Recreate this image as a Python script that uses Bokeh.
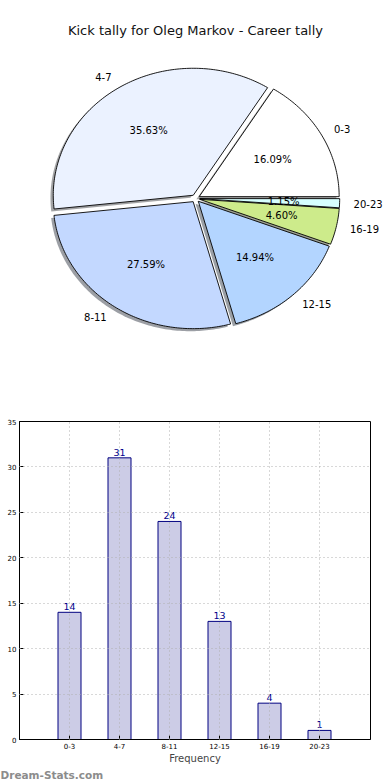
import numpy as np
from bokeh.plotting import figure
from bokeh.models import Range1d, FixedTicker, Title, ColumnDataSource
from bokeh.core.properties import value
from bokeh.embed import file_html
from bokeh.resources import INLINE

# ---------------- data ----------------
categories = ["0-3", "4-7", "8-11", "12-15", "16-19", "20-23"]
tallies = [14, 31, 24, 13, 4, 1]
slice_colors = ["#FFFFFF", "#EBF2FF", "#C3D8FF", "#B3D5FF", "#CDEB8B", "#D6FFFF"]
title_text = "Kick tally for Oleg Markov - Career tally"
x_axis_label = "Frequency"
y_ticks = [0, 5, 10, 15, 20, 25, 30, 35]
watermark = "Dream-Stats.com"

FONT = "DejaVu Sans"

# ---------------- pie ----------------
total = float(sum(tallies))
fracs = np.array(tallies, dtype=float) / total
explode = 0.03
shadow_off = 0.02

p1 = figure(width=390, height=404,
            x_range=Range1d(-1.3929, 1.3929), y_range=Range1d(-1.622, 1.559),
            output_backend="svg", toolbar_location=None,
            x_axis_location=None, y_axis_location=None, min_border=0)
p1.grid.visible = False
p1.outline_line_color = None
p1.background_fill_color = "white"
p1.border_fill_color = "white"


def shade(hexcol):
    h = hexcol.lstrip("#")
    r, g, b = (int(h[i:i + 2], 16) for i in (0, 2, 4))
    return "#%02x%02x%02x" % (int(r * 0.3), int(g * 0.3), int(b * 0.3))


wx, wy, sx, sy, sc = [], [], [], [], []
lx, ly, la, ltxt = [], [], [], []
px, py, ptxt = [], [], []
start = 0.0
for i, f in enumerate(fracs):
    t1 = start * 2 * np.pi
    t2 = (start + f) * 2 * np.pi
    start += f
    mid = 0.5 * (t1 + t2)
    cx = explode * np.cos(mid)
    cy = explode * np.sin(mid)
    n = max(3, int(np.degrees(t2 - t1)) + 2)
    ang = np.linspace(t1, t2, n)
    xs = np.concatenate([[cx], cx + np.cos(ang)])
    ys = np.concatenate([[cy], cy + np.sin(ang)])
    wx.append(list(xs))
    wy.append(list(ys))
    sx.append(list(xs - shadow_off))
    sy.append(list(ys - shadow_off))
    sc.append(shade(slice_colors[i]))
    xt = cx + 1.1 * np.cos(mid)
    yt = cy + 1.1 * np.sin(mid)
    lx.append(xt)
    ly.append(yt)
    la.append("left" if xt > 0 else "right")
    ltxt.append(categories[i])
    px.append(cx + 0.6 * np.cos(mid))
    py.append(cy + 0.6 * np.sin(mid))
    ptxt.append("%.2f%%" % (100 * f))

p1.patches(sx, sy, fill_color=sc, fill_alpha=0.5, line_color=None)
p1.patches(wx, wy, fill_color=slice_colors, line_color="black", line_width=0.9)

p1.text(x=lx, y=ly, text=ltxt, text_align=la, text_baseline="middle",
        text_font=value(FONT), text_font_size="10px", text_color="black")
p1.text(x=px, y=py, text=ptxt, text_align="center", text_baseline="middle",
        text_font=value(FONT), text_font_size="10px", text_color="black")
p1.text(x=[0.0], y=[1.323], text=[title_text], text_align="center",
        text_baseline="middle", text_font=value(FONT), text_font_size="13px",
        text_color="#111111")

# ---------------- bars ----------------
positions = list(range(1, len(categories) + 1))

p2 = figure(width=390, height=376,
            x_range=Range1d(0, 7.02), y_range=Range1d(0, 35),
            output_backend="svg", toolbar_location=None,
            min_border_left=19, min_border_right=20,
            min_border_top=17, min_border_bottom=40)
p2.background_fill_color = "white"
p2.border_fill_color = "white"
p2.outline_line_color = "black"
p2.outline_line_width = 1

src = ColumnDataSource(dict(x=positions, top=tallies,
                            lbl=[str(v) for v in tallies], cat=categories))
p2.vbar(x="x", top="top", width=0.46, source=src,
        fill_color="#CCCCE6", line_color="#000080", line_width=1)
p2.text(x="x", y="top", text="lbl", source=src, text_align="center",
        text_baseline="bottom", y_offset=-2, text_font=value(FONT),
        text_font_size="9.5px", text_color="#00008B")

p2.xaxis.ticker = FixedTicker(ticks=positions)
p2.xaxis.major_label_overrides = {p: c for p, c in zip(positions, categories)}
p2.yaxis.ticker = FixedTicker(ticks=y_ticks)
p2.xaxis.axis_label = x_axis_label
for ax in (p2.xaxis, p2.yaxis):
    ax.major_tick_in = 4
    ax.major_tick_out = 0
    ax.minor_tick_line_color = None
    ax.major_label_text_font = FONT
    ax.major_label_text_font_size = "7px"
    ax.major_label_text_color = "black"
    ax.axis_line_color = "black"
    ax.major_tick_line_color = "black"
p2.xaxis.major_label_standoff = 3
p2.yaxis.major_label_standoff = 3
p2.xaxis.axis_label_text_font = FONT
p2.xaxis.axis_label_text_font_size = "10px"
p2.xaxis.axis_label_text_font_style = "normal"
p2.xaxis.axis_label_standoff = 1

p2.xgrid.ticker = FixedTicker(ticks=positions)
p2.ygrid.ticker = FixedTicker(ticks=y_ticks)
for g in (p2.xgrid, p2.ygrid):
    g.grid_line_color = "#b0b0b0"
    g.grid_line_dash = "1 3"
    g.grid_line_width = 1
    g.level = "overlay"

p2.add_layout(Title(text=watermark, align="left", offset=-19, standoff=0,
                    text_font=FONT, text_font_size="10.5px",
                    text_font_style="bold", text_color="#8c8c8c"), "below")

open("out.html", "w").write(file_html([p1, p2], INLINE))
